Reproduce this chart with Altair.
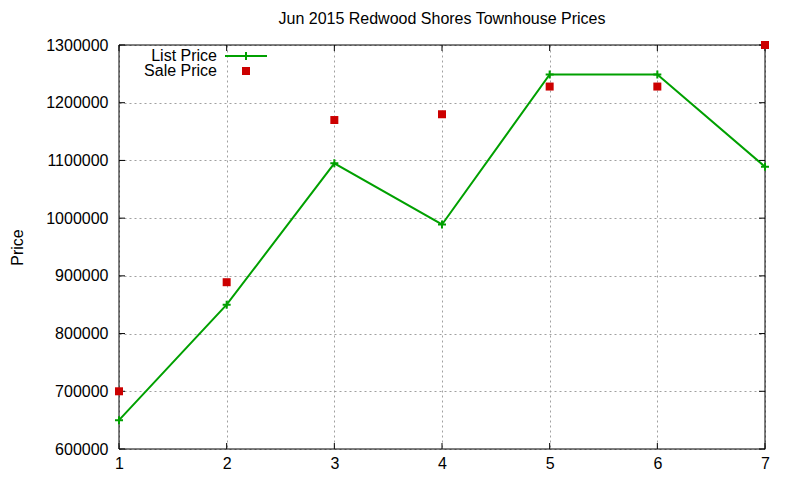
import altair as alt
import pandas as pd

# values
months = [1, 2, 3, 4, 5, 6, 7]
list_price = [650000, 850000, 1095000, 989000, 1249000, 1249000, 1089000]
sale_price = [700000, 889000, 1170000, 1180000, 1228000, 1228000, 1300000]
y_ticks = [600000, 700000, 800000, 900000, 1000000, 1100000, 1200000, 1300000]
x_ticks = [1, 2, 3, 4, 5, 6, 7]
key_labels = ["List Price", "Sale Price"]

W, H = 646, 404
FONT = "Liberation Sans"
GREEN = "#00a000"
RED = "#cc0000"
PLUS = "M-1,0H1M0,-1V1"

df = pd.DataFrame({"month": months, "list": list_price, "sale": sale_price})
yt = pd.DataFrame({"v": y_ticks})
xt = pd.DataFrame({"v": x_ticks})

xs = alt.Scale(domain=[1, 7], nice=False)
ys = alt.Scale(domain=[600000, 1300000], nice=False, zero=False)

x_axis = alt.Axis(values=x_ticks, format="d", title=None, grid=True,
                  gridDash=[2, 3], gridColor="#a0a0a0", domain=False,
                  ticks=False, labelPadding=6, labelFlush=False)
y_axis = alt.Axis(values=y_ticks, format="d", title="Price", grid=True,
                  gridDash=[2, 3], gridColor="#a0a0a0", domain=False,
                  ticks=False, labelPadding=11, labelFlush=False,
                  titleX=-102, titleY=H / 2,
                  titleAlign="center", titleBaseline="middle",
                  titleFontWeight="normal")

base = alt.Chart(df)

line = base.mark_line(color=GREEN, strokeWidth=2).encode(
    x=alt.X("month:Q", scale=xs, axis=x_axis),
    y=alt.Y("list:Q", scale=ys, axis=y_axis),
)
plus = base.mark_point(shape=PLUS, size=64, color=GREEN, strokeWidth=2,
                       filled=False, opacity=1).encode(
    x=alt.X("month:Q", scale=xs),
    y=alt.Y("list:Q", scale=ys),
)
squares = base.mark_square(size=64, color=RED, opacity=1).encode(
    x=alt.X("month:Q", scale=xs),
    y=alt.Y("sale:Q", scale=ys),
)

# frame over the grid, and inward ticks on all four sides, gnuplot style
frame = alt.Chart(xt.iloc[:1]).mark_rect(
    fill=None, stroke="black", strokeWidth=1
).encode(x=alt.value(0), x2=alt.value(W), y=alt.value(0), y2=alt.value(H))
tl = alt.Chart(yt).mark_rule(color="black").encode(
    y=alt.Y("v:Q", scale=ys), x=alt.value(0), x2=alt.value(6))
tr = alt.Chart(yt).mark_rule(color="black").encode(
    y=alt.Y("v:Q", scale=ys), x=alt.value(W - 6), x2=alt.value(W))
tb = alt.Chart(xt).mark_rule(color="black").encode(
    x=alt.X("v:Q", scale=xs), y=alt.value(H - 6), y2=alt.value(H))
tt = alt.Chart(xt).mark_rule(color="black").encode(
    x=alt.X("v:Q", scale=xs), y=alt.value(0), y2=alt.value(6))

# key, top left inside the plot
key = pd.DataFrame({"label": key_labels})
key_list = alt.Chart(key.iloc[:1]).mark_text(
    align="right", baseline="middle", font=FONT, fontSize=16
).encode(text="label:N", x=alt.value(98), y=alt.value(11))
key_sale = alt.Chart(key.iloc[1:]).mark_text(
    align="right", baseline="middle", font=FONT, fontSize=16
).encode(text="label:N", x=alt.value(98), y=alt.value(26))
key_line = alt.Chart(key.iloc[:1]).mark_rule(color=GREEN, strokeWidth=2).encode(
    x=alt.value(106), x2=alt.value(148), y=alt.value(11))
key_plus = alt.Chart(key.iloc[:1]).mark_point(
    shape=PLUS, size=64, color=GREEN, strokeWidth=2, filled=False, opacity=1
).encode(x=alt.value(127), y=alt.value(11))
key_sq = alt.Chart(key.iloc[1:]).mark_square(size=64, color=RED, opacity=1).encode(
    x=alt.value(127), y=alt.value(26))

chart = alt.layer(
    line, frame, tl, tr, tb, tt, plus, squares,
    key_list, key_sale, key_line, key_plus, key_sq
).properties(
    width=W,
    height=H,
    autosize="none",
    padding={"left": 111, "top": 37, "right": 27, "bottom": 22},
    title=alt.TitleParams("Jun 2015 Redwood Shores Townhouse Prices",
                          font=FONT, fontSize=16, fontWeight="normal",
                          color="black", offset=10),
).configure_view(
    stroke=None
).configure_axis(
    labelFont=FONT, labelFontSize=16, labelColor="black",
    titleFont=FONT, titleFontSize=16, titleColor="black",
)

chart.save("out.html", embed_options={"renderer": "svg", "actions": False})
